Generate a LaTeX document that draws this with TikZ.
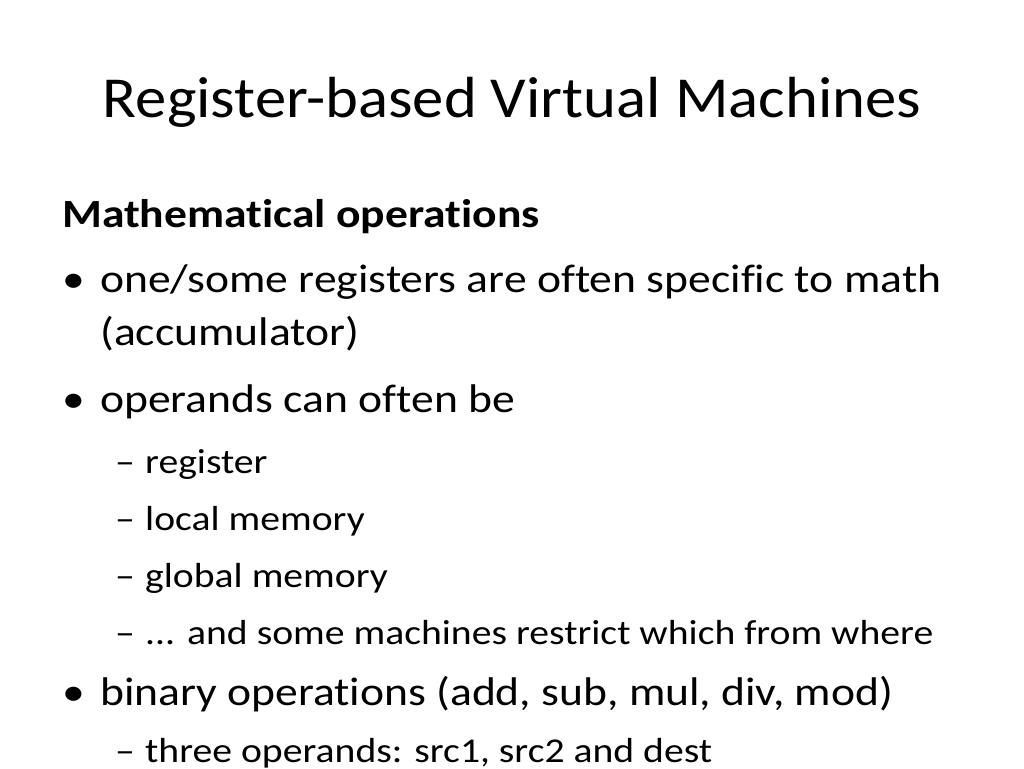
\documentclass[tikz,border=0pt]{standalone}
\usepackage{fontspec}
\setmainfont{Carlito}[FakeStretch=1.14,Ligatures=NoCommon]
\newfontfamily\titlefont{Carlito}[FakeStretch=1.08,Ligatures=NoCommon]
\begin{document}
\begin{tikzpicture}[x=1pt,y=-1pt,
  t/.style={anchor=base west,inner sep=0pt},
  l1/.style={t,font=\fontsize{40}{48}\selectfont},
  l2/.style={t,font=\fontsize{34.8}{40}\selectfont},
  bul/.style={t,font=\fontsize{40}{48}\selectfont}]
\path[use as bounding box,fill=white] (0,0) rectangle (1024,768);
\clip (0,0) rectangle (1024,768);
\node[anchor=base,inner sep=0pt,font=\titlefont\fontsize{58}{66}\selectfont] (title) at (512,117) {Register-based Virtual Machines};
\node[l1,font=\bfseries\fontsize{40}{48}\selectfont] (h) at (62,227) {Mathematical operations};
\node[bul] (b1) at (62,292) {•};
\node[l1] (i1) at (100,292) {one/some registers are often specific to math};
\node[l1] (i1b) at (100,345) {(accumulator)};
\node[bul] (b2) at (62,412) {•};
\node[l1] (i2) at (100,412) {operands can often be};
\node[l2] (d1) at (115,473) {–};
\node[l2] (s1) at (145,473) {register};
\node[l2] (d2) at (115,530) {–};
\node[l2] (s2) at (145,530) {local memory};
\node[l2] (d3) at (115,587) {–};
\node[l2] (s3) at (145,587) {global memory};
\node[l2] (d4) at (115,644) {–};
\node[l2] (s4) at (145,644) {... and some machines restrict which from where};
\node[bul] (b3) at (62,705) {•};
\node[l1] (i3) at (100,705) {binary operations (add, sub, mul, div, mod)};
\node[l2] (d5) at (115,762) {–};
\node[l2] (s5) at (145,762) {three operands: src1, src2 and dest};
\end{tikzpicture}
\end{document}
